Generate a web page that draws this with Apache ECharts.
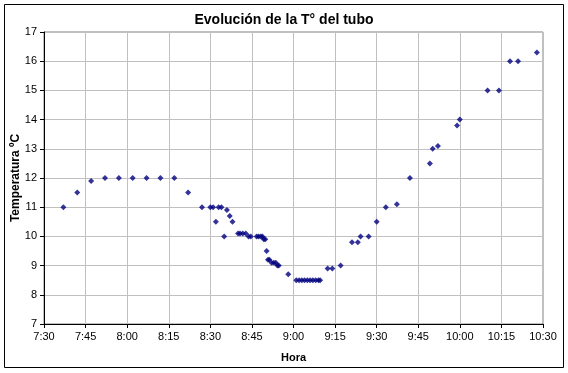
<!DOCTYPE html>
<html>
<head>
<meta charset="utf-8">
<script src="https://cdn.jsdelivr.net/npm/echarts@6/dist/echarts.min.js"></script>
<style>
html,body{margin:0;padding:0;background:#fff;}
#c{width:568px;height:373px;}
</style>
</head>
<body>
<div id="c"></div>
<script>
// Time of each reading, in minutes after midnight
var minutes = [457, 462, 467, 472, 477, 482, 487, 492, 497, 502,
  507, 510, 511, 512, 513, 514, 515, 516, 517, 518,
  520, 520.7, 521.7, 522.8, 523.8, 524.6, 526.7, 527.4, 528.2, 528.8,
  529.3, 529.8, 530.3, 530.8, 531.3, 532.1, 532.9, 533.6, 534.2, 534.7,
  538.1, 541, 542, 543, 544, 545, 546, 547, 548, 549, 549.6,
  552.3, 554, 557, 561.1, 563.2, 564.2, 567.1, 570, 573.3, 577.3,
  582, 589.2, 590.2, 592.1, 599, 600, 610, 614.1, 618.1, 621, 627.8];
// Temperature, °C
var temps = [11.0, 11.5, 11.9, 12.0, 12.0, 12.0, 12.0, 12.0, 12.0, 11.5,
  11.0, 11.0, 11.0, 10.5, 11.0, 11.0, 10.0, 10.9, 10.7, 10.5,
  10.1, 10.1, 10.1, 10.1, 10.0, 10.0, 10.0, 10.0, 10.0, 10.0,
  9.9, 9.9, 9.5, 9.2, 9.2, 9.1, 9.1, 9.1, 9.0, 9.0,
  8.7, 8.5, 8.5, 8.5, 8.5, 8.5, 8.5, 8.5, 8.5, 8.5, 8.5,
  8.9, 8.9, 9.0, 9.8, 9.8, 10.0, 10.0, 10.5, 11.0, 11.1,
  12.0, 12.5, 13.0, 13.1, 13.8, 14.0, 15.0, 15.0, 16.0, 16.0, 16.3];
var xMin = 450, xMax = 630, xStep = 15;
var yMin = 7, yMax = 17, yStep = 1;

var pts = minutes.map(function (m, i) { return [m, temps[i]]; });
function fmtTime(v) {
  var h = Math.floor(v / 60), m = Math.round(v - h * 60);
  return h + ':' + (m < 10 ? '0' + m : m);
}
var font = 'Liberation Sans, Arial, sans-serif';
var chart = echarts.init(document.getElementById('c'), null, {renderer: 'canvas'});
chart.setOption({
  animation: false,
  backgroundColor: '#ffffff',
  title: {
    text: 'Evolución de la T° del tubo',
    left: 'center', top: 8,
    textStyle: {fontFamily: font, fontSize: 14, fontWeight: 'bold', color: '#000'}
  },
  graphic: [{
    type: 'rect', shape: {x: 4.5, y: 4.5, width: 559, height: 363},
    style: {fill: 'none', stroke: '#000', lineWidth: 1}, z: -1
  }],
  grid: {left: 44, top: 32, right: 25, bottom: 49, show: true,
    containLabel: false, outerBoundsMode: 'none',
    borderColor: '#808080', borderWidth: 1, backgroundColor: '#fff'},
  xAxis: {
    type: 'value', min: xMin, max: xMax, interval: xStep,
    name: 'Hora', nameLocation: 'middle', nameGap: 28, nameMoveOverlap: false,
    nameTextStyle: {fontFamily: font, fontSize: 11, fontWeight: 'bold', color: '#000'},
    axisLine: {onZero: false, lineStyle: {color: '#000', width: 1}},
    axisTick: {show: true, length: 4, lineStyle: {color: '#000'}},
    axisLabel: {formatter: fmtTime, fontFamily: font, fontSize: 11, color: '#000', margin: 7},
    splitLine: {show: true, lineStyle: {color: '#c0c0c0', width: 1}}
  },
  yAxis: {
    type: 'value', min: yMin, max: yMax, interval: yStep,
    name: 'Temperatura ºC', nameLocation: 'middle', nameGap: 22, nameMoveOverlap: false,
    nameTextStyle: {fontFamily: font, fontSize: 12, fontWeight: 'bold', color: '#000'},
    axisLine: {show: true, onZero: false, lineStyle: {color: '#000', width: 1}},
    axisTick: {show: true, length: 4, lineStyle: {color: '#000'}},
    axisLabel: {fontFamily: font, fontSize: 11, color: '#000', margin: 7},
    splitLine: {show: true, lineStyle: {color: '#c0c0c0', width: 1}}
  },
  series: [{
    type: 'scatter', data: pts, symbol: 'diamond', symbolSize: 6,
    itemStyle: {color: '#000080'}
  }]
});
</script>
</body>
</html>
